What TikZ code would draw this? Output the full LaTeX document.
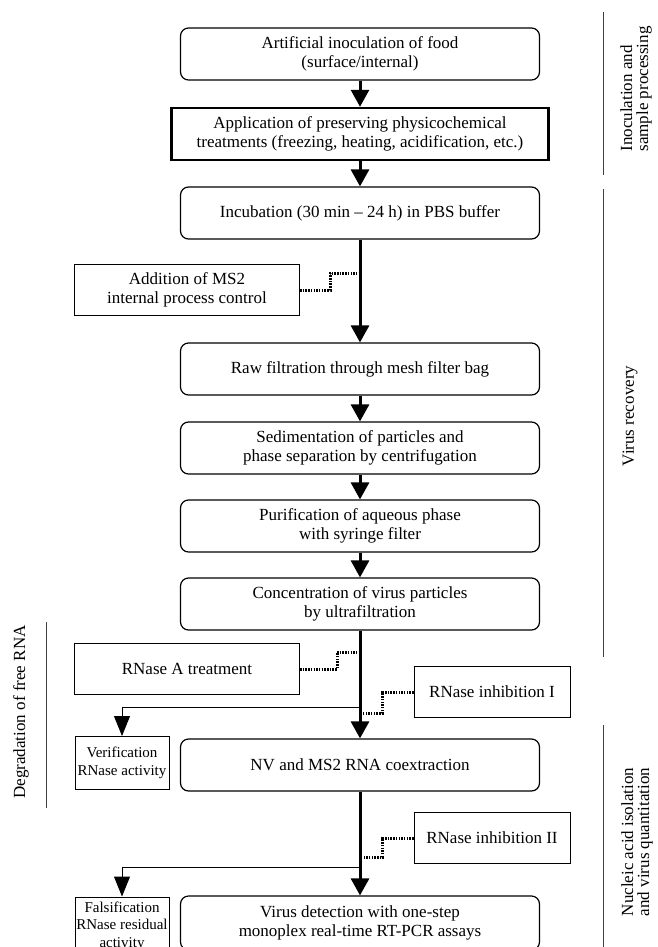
\documentclass[tikz,border=0pt]{standalone}
\usepackage{fontspec}
\setmainfont{Liberation Serif}
\usetikzlibrary{arrows.meta}

\begin{document}
\begin{tikzpicture}[x=1pt,y=-1pt,
  every node/.style={font=\fontsize{17}{19.5}\selectfont},
  stepbox/.style={draw,rounded corners=8pt,line width=1.2pt,minimum width=359pt,minimum height=52pt,inner sep=0pt,align=center},
  treatbox/.style={draw,line width=2.4pt,minimum width=377pt,minimum height=52pt,inner sep=0pt,align=center},
  sidebox/.style={draw,line width=1pt,minimum width=225pt,minimum height=51pt,inner sep=0pt,align=center},
  inhbox/.style={sidebox,minimum width=156pt},
  checkbox/.style={draw,line width=1pt,minimum width=94pt,minimum height=53pt,inner sep=0pt,align=center,font=\fontsize{15}{17.5}\selectfont},
  flow/.style={line width=3pt,-{Triangle[length=17pt,width=18pt]}},
  branch/.style={line width=1pt,-{Triangle[length=20pt,width=16pt]}},
  dotline/.style={line width=3pt,dash pattern=on 1.5pt off 1.2pt},
  phase/.style={draw=black!75,line width=1pt},
  phaselabel/.style={rotate=90,align=left,font=\fontsize{17}{16}\selectfont}]
	\useasboundingbox (0,0) rectangle (657,947);
	\node[stepbox] (inoc) at (360,54) {Artificial inoculation of food\\(surface/internal)};
	\node[treatbox] (treat) at (360,134) {Application of preserving physicochemical\\treatments (freezing, heating, acidification, etc.)};
	\node[stepbox] (incub) at (360,213) {Incubation (30 min -- 24 h) in PBS buffer};
	\node[sidebox] (ms2) at (187,290) {Addition of MS2\\internal process control};
	\node[stepbox] (rawfilt) at (360,369) {Raw filtration through mesh filter bag};
	\node[stepbox] (sedim) at (360,448) {Sedimentation of particles and\\phase separation by centrifugation};
	\node[stepbox] (purif) at (360,526) {Purification of aqueous phase\\with syringe filter};
	\node[stepbox] (conc) at (360,604) {Concentration of virus particles\\by ultrafiltration};
	\node[sidebox] (rnasea) at (187,669) {RNase A treatment};
	\node[inhbox] (inhibI) at (492,692) {RNase inhibition I};
	\node[checkbox] (verif) at (122,763) {Verification\\RNase activity};
	\node[stepbox] (coext) at (360,765) {NV and MS2 RNA coextraction};
	\node[inhbox] (inhibII) at (492,838) {RNase inhibition II};
	\node[checkbox,minimum height=58pt] (falsif) at (122,926) {Falsification\\RNase residual\\activity};
	\node[stepbox,minimum height=54pt] (detect) at (360,923) {Virus detection with one-step\\monoplex real-time RT-PCR assays};

	\coordinate (j1) at (360,273);
	\coordinate (j2) at (360,652);
	\coordinate (j3) at (360,713);
	\coordinate (j4) at (360,707);
	\coordinate (j5) at (360,857);
	\coordinate (j6) at (360,867);

	\draw[dotline] (ms2.east) -- ++(30,0) |- (j1);
	\draw[dotline] (rnasea.east) -- ++(37,0) |- (j2);
	\draw[dotline] (inhibI.west) -- ++(-31,0) |- (j3);
	\draw[dotline] (inhibII.west) -- ++(-31,0) |- (j5);
	\draw[branch] (j4) -| (verif.north);
	\draw[branch] (j6) -| (falsif.north);

	\draw[flow] (inoc) -- (treat);
	\draw[flow] (treat) -- (incub);
	\draw[flow] (incub) -- (rawfilt);
	\draw[flow] (rawfilt) -- (sedim);
	\draw[flow] (sedim) -- (purif);
	\draw[flow] (purif) -- (conc);
	\draw[flow] (conc) -- (coext);
	\draw[flow] (coext) -- (detect);

	\coordinate (p1a) at (603,12);
	\coordinate (p1b) at (603,175);
	\coordinate (p2a) at (603,189);
	\coordinate (p2b) at (603,657);
	\coordinate (p3a) at (603,725);
	\coordinate (p3b) at (603,965);
	\coordinate (p4a) at (46,622);
	\coordinate (p4b) at (46,808);
	\draw[phase] (p1a) -- (p1b);
	\draw[phase] (p2a) -- (p2b);
	\draw[phase] (p3a) -- (p3b);
	\draw[phase] (p4a) -- (p4b);
	\node[phaselabel] (l1) at (636,89) {Inoculation and\\sample processing};
	\node[phaselabel] (l2) at (630,416) {Virus recovery};
	\node[phaselabel] (l3) at (637,842) {Nucleic acid isolation\\and virus quantitation};
	\node[phaselabel] (l4) at (21,712) {Degradation of free RNA};
\end{tikzpicture}
\end{document}
